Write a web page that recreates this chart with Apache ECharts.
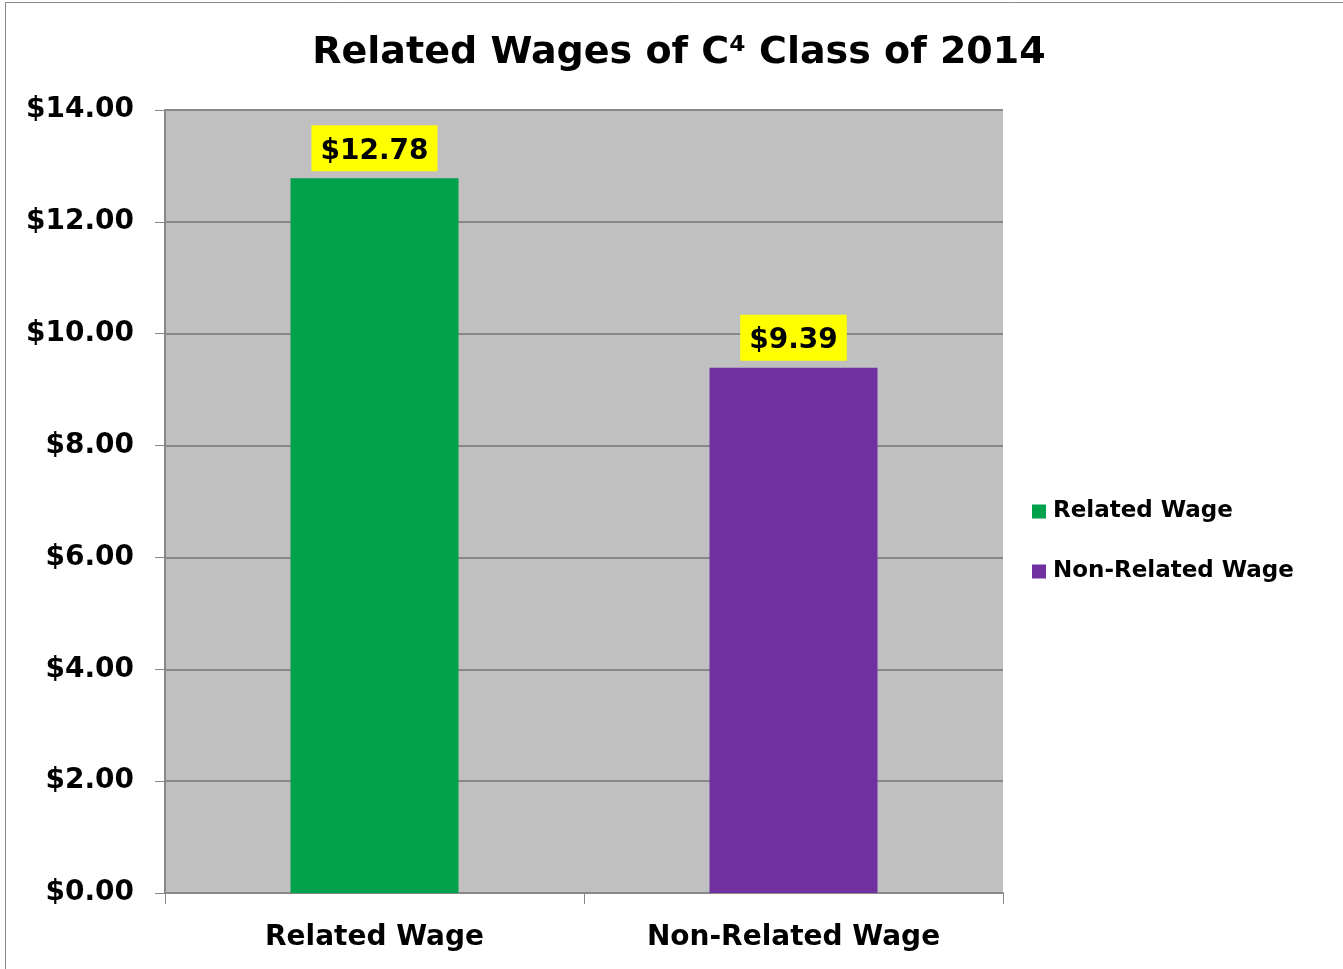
<!DOCTYPE html>
<html>
<head>
<meta charset="utf-8">
<title>Related Wages of C4 Class of 2014</title>
<script src="https://cdn.jsdelivr.net/npm/echarts@6/dist/echarts.min.js"></script>
<style>
    html, body {margin: 0; padding: 0; background: #fff;}
    #chart {width: 1343px; height: 969px;}
</style>
</head>
<body>
<div id="chart"></div>
<script>
var categories = ['Related Wage', 'Non-Related Wage'];
var relatedWage = [12.78, '-'];
var nonRelatedWage = ['-', 9.39];
var yTicks = {min: 0, max: 14, interval: 2};

var FONT = '"DejaVu Sans", Verdana, sans-serif';

function money(v) {
    return '$' + Number(v).toFixed(2);
}

var labelStyle = {
    show: true,
    position: 'top',
    distance: 7,
    formatter: function (p) { return money(p.value); },
    color: '#000',
    fontFamily: FONT,
    fontWeight: 'bold',
    fontSize: 28,
    backgroundColor: '#ffff00',
    padding: [12, 9, 6, 9]
};

var chart = echarts.init(document.getElementById('chart'));
chart.setOption({
    animation: false,
    title: {
        text: 'Related Wages of C\u2074 Class of 2014',
        left: 674,
        textAlign: 'center',
        top: 29,
        textStyle: {fontFamily: FONT, fontWeight: 'bold', fontSize: 38, color: '#000'}
    },
    graphic: [{
        type: 'rect',
        shape: {x: 5.5, y: 2.5, width: 1400, height: 1000},
        style: {fill: 'none', stroke: '#888', lineWidth: 1},
        silent: true
    }],
    legend: {
        orient: 'vertical',
        left: 1027,
        top: 495,
        itemWidth: 14,
        itemHeight: 14,
        itemGap: 37,
        icon: 'rect',
        textStyle: {fontFamily: FONT, fontWeight: 'bold', fontSize: 23, color: '#000', padding: [0, 0, 0, 2]},
        data: ['Related Wage', 'Non-Related Wage']
    },
    grid: {
        left: 165, right: 340, top: 110, bottom: 76,
        show: true, backgroundColor: '#c0c0c0', borderWidth: 0
    },
    xAxis: {
        type: 'category',
        data: categories,
        axisLine: {lineStyle: {color: '#888', width: 2}},
        axisTick: {show: true, length: 11, lineStyle: {color: '#888'}},
        axisLabel: {color: '#000', fontFamily: FONT, fontWeight: 'bold', fontSize: 28, margin: 31}
    },
    yAxis: {
        type: 'value',
        min: yTicks.min,
        max: yTicks.max,
        interval: yTicks.interval,
        axisLine: {show: true, lineStyle: {color: '#888', width: 2}},
        axisTick: {show: true, length: 10, lineStyle: {color: '#888'}},
        splitLine: {lineStyle: {color: '#888', width: 2}},
        axisLabel: {color: '#000', fontFamily: FONT, fontWeight: 'bold', fontSize: 28, margin: 31,
            backgroundColor: 'rgba(255,255,255,0)', padding: [6, 0, 0, 0], formatter: money}
    },
    series: [{
        name: 'Related Wage',
        type: 'bar',
        stack: 'w',
        barWidth: 168,
        itemStyle: {color: '#00a14b'},
        label: labelStyle,
        data: relatedWage
    }, {
        name: 'Non-Related Wage',
        type: 'bar',
        stack: 'w',
        barWidth: 168,
        itemStyle: {color: '#7030a0'},
        label: labelStyle,
        data: nonRelatedWage
    }]
});
</script>
</body>
</html>
